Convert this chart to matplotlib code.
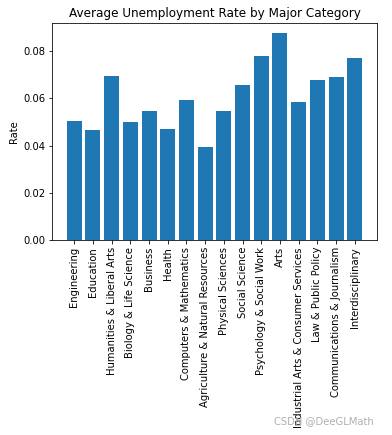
import numpy as np
import matplotlib
matplotlib.use('Agg')
import matplotlib.pyplot as plt

categories = ['Engineering', 'Education', 'Humanities & Liberal Arts',
              'Biology & Life Science', 'Business', 'Health',
              'Computers & Mathematics', 'Agriculture & Natural Resources',
              'Physical Sciences', 'Social Science', 'Psychology & Social Work',
              'Arts', 'Industrial Arts & Consumer Services', 'Law & Public Policy',
              'Communications & Journalism', 'Interdisciplinary']
rates = [0.0503, 0.0465, 0.0693, 0.0499, 0.0545, 0.0469, 0.0592, 0.0393,
         0.0545, 0.0655, 0.0777, 0.0875, 0.0583, 0.0676, 0.0689, 0.0769]

fig = plt.figure(figsize=(392/72, 435/72), dpi=72)
ax = fig.add_axes([52/392, (435-240)/435, (377-52)/392, (240-23)/435])
ax.bar(categories, rates, color='#1f77b4')
ax.set_title('Average Unemployment Rate by Major Category')
ax.set_ylabel('Rate')
ax.set_yticks([0.00, 0.02, 0.04, 0.06, 0.08])
ax.tick_params(axis='x', rotation=90)

fig.text(0.70, 0.025, 'CSDN @DeeGLMath', color='#b0b0b0', fontsize=10)

fig.savefig('out.png', dpi=72)
